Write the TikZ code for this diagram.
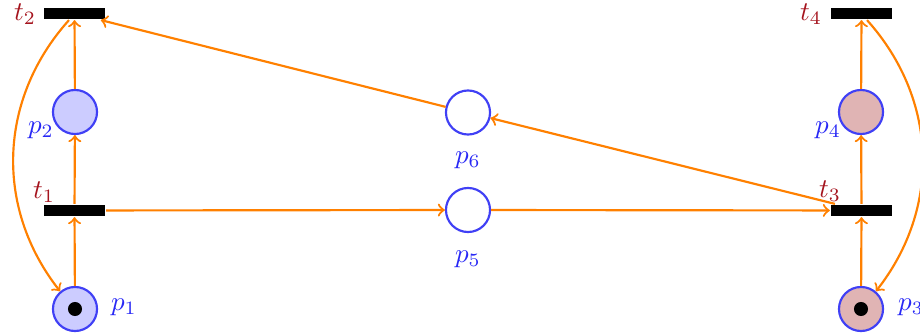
\documentclass[tikz,border=0pt]{standalone}
\definecolor{pborder}{RGB}{64,64,245}
\definecolor{pfillb}{RGB}{204,204,255}
\definecolor{pfillr}{RGB}{224,180,180}
\definecolor{tred}{RGB}{165,20,30}
\definecolor{ptext}{RGB}{40,40,245}
\definecolor{arcor}{RGB}{255,128,0}
\begin{document}
\begin{tikzpicture}[x=0.37pt,y=0.37pt,
  place/.style={circle,draw=pborder,thick,minimum size=16.3pt,inner sep=0pt},
  bplace/.style={place,fill=pfillb},
  rplace/.style={place,fill=pfillr},
  trans/.style={rectangle,fill=black,minimum width=22.6pt,minimum height=4.1pt,inner sep=0pt,outer sep=0.4pt},
  arc/.style={draw=arcor,line width=0.8pt,->},
  tlab/.style={text=tred,inner sep=0pt},
  plab/.style={text=ptext,inner sep=0pt},
  token/.style={circle,fill=black,minimum size=5.2pt,inner sep=0pt}]
\useasboundingbox (0,0) rectangle (920,-336);
% transitions
\node[trans] (t2) at (74.5,-13.5) {};
\node[trans] (t1) at (74.5,-210.5) {};
\node[trans] (t3) at (861.5,-210.5) {};
\node[trans] (t4) at (861.5,-13.5) {};
% places
\node[bplace] (p2) at (75,-112) {};
\node[bplace] (p1) at (75,-309) {};
\node[rplace] (p4) at (861,-112) {};
\node[rplace] (p3) at (861,-309) {};
\node[place] (p6) at (468,-112.5) {};
\node[place] (p5) at (468,-210) {};
% tokens
\node[token] (k1) at (p1) {};
\node[token] (k3) at (p3) {};
% labels
\node[tlab] (lt2) at (25,-14) {$t_2$};
\node[tlab] (lt1) at (44,-192) {$t_1$};
\node[tlab] (lt4) at (811,-14) {$t_4$};
\node[tlab] (lt3) at (830,-191) {$t_3$};
\node[plab] (lp2) at (41,-130) {$p_2$};
\node[plab] (lp1) at (124,-307) {$p_1$};
\node[plab] (lp4) at (828,-130) {$p_4$};
\node[plab] (lp3) at (911,-307) {$p_3$};
\node[plab] (lp6) at (468,-160) {$p_6$};
\node[plab] (lp5) at (468,-259) {$p_5$};
% arcs
\draw[arc] (p1) -- (t1);
\draw[arc] (t1) -- (p2);
\draw[arc] (p2) -- (t2);
\draw[arc] (t2) to[bend right=40] (p1);
\draw[arc] (t1) -- (p5);
\draw[arc] (p5) -- (t3);
\draw[arc] (t3) -- (p6);
\draw[arc] (p6) -- (t2);
\draw[arc] (p3) -- (t3);
\draw[arc] (t3) -- (p4);
\draw[arc] (p4) -- (t4);
\draw[arc] (t4) to[bend left=40] (p3);
\end{tikzpicture}
\end{document}
